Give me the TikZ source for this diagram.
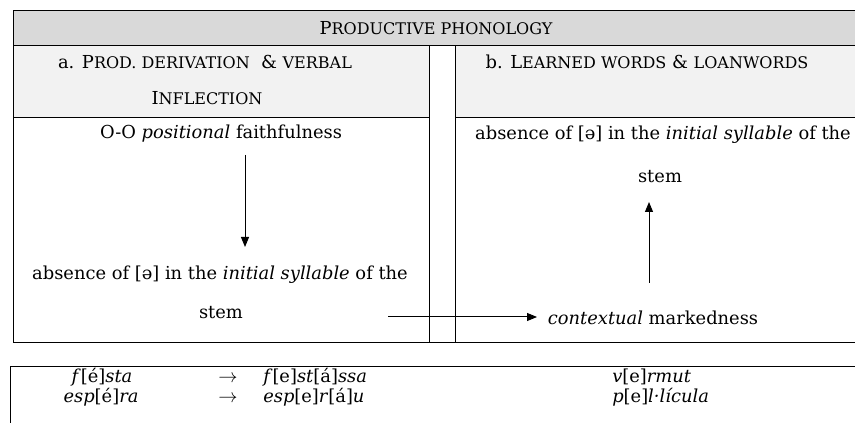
\documentclass[tikz,border=0pt]{standalone}
\usepackage{fontspec}
\setmainfont{DejaVu Serif}
\usetikzlibrary{arrows.meta}
\definecolor{hdrgray}{HTML}{D9D9D9}
\definecolor{subgray}{HTML}{F2F2F2}
\newcommand\fsz{\fontsize{13.4}{16}\selectfont}
\newcommand\exsz{\fontsize{13.4}{16}\selectfont}
\newcommand\scp[1]{{\fontsize{12}{14}\selectfont #1}}
\begin{document}
\begin{tikzpicture}[x=0.75pt,y=-0.75pt,
  rule/.style={line width=0.75pt,black},
  conn/.style={line width=0.75pt,-{Triangle[length=7.5pt,width=6pt]}},
  txt/.style={inner sep=0pt,font=\fsz},
  ex/.style={inner sep=0pt,font=\exsz,anchor=base}]
\useasboundingbox (0,0) rectangle (855,423);
% fills
\fill[hdrgray] (13,11) rectangle (855,46);
\fill[subgray] (13,46) rectangle (429,118);
\fill[subgray] (455,46) rectangle (855,118);
% rules of the upper table
\draw[rule] (13,11) -- (855,11);
\draw[rule] (13,46) -- (855,46);
\draw[rule] (13,118) -- (429,118);
\draw[rule] (455,118) -- (855,118);
\draw[rule] (13,342) -- (855,342);
\draw[rule] (13,11) -- (13,342);
\draw[rule] (429,46) -- (429,342);
\draw[rule] (455,46) -- (455,342);
% rules of the lower table
\draw[rule] (10,366) -- (855,366);
\draw[rule] (10,366) -- (10,423);
% headings
\node[txt] (hdr) at (436,28) {P\scp{RODUCTIVE PHONOLOGY}};
\node[txt] (ha1) at (205,62) {a. P\scp{ROD. DERIVATION} \ \& \scp{VERBAL}};
\node[txt] (ha2) at (207,98) {I\scp{NFLECTION}};
\node[txt] (hb) at (647,62) {b. L\scp{EARNED WORDS} \& \scp{LOANWORDS}};
% left column
\node[txt] (oof) at (221,134) {O-O \textit{positional} faithfulness};
\node[txt] (absa) at (220,275) {absence of [ə] in the \textit{initial syllable} of the};
\node[txt] (stema) at (221,313) {stem};
% right column
\node[txt] (absb) at (663,135) {absence of [ə] in the \textit{initial syllable} of the};
\node[txt] (stemb) at (660,177) {stem};
\node[txt] (ctx) at (653,318) {\textit{contextual} markedness};
% connectors
\coordinate (d1) at (245,155);
\coordinate (d2) at (245,247);
\coordinate (h1) at (388,317);
\coordinate (h2) at (537,317);
\coordinate (u1) at (649,283);
\coordinate (u2) at (649,202);
\draw[conn] (d1) -- (d2);
\draw[conn] (h1) -- (h2);
\draw[conn] (u1) -- (u2);
% examples
\node[ex] (e11) at (102,382) {\textit{f}[é]\textit{sta}};
\node[ex] (e12) at (228,382) {$\rightarrow$};
\node[ex,anchor=base west] (e13) at (263,382) {\textit{f}[e]\textit{st}[á]\textit{ssa}};
\node[ex,anchor=base west] (e14) at (612,382) {\textit{v}[e]\textit{rmut}};
\node[ex] (e21) at (101,402) {\textit{esp}[é]\textit{ra}};
\node[ex] (e22) at (228,402) {$\rightarrow$};
\node[ex,anchor=base west] (e23) at (263,402) {\textit{esp}[e]\textit{r}[á]\textit{u}};
\node[ex,anchor=base west] (e24) at (612,402) {\textit{p}[e]\textit{l·lícula}};
\end{tikzpicture}
\end{document}
